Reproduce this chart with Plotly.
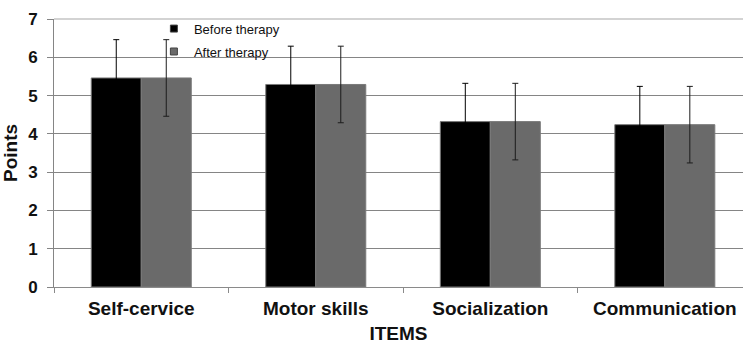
import plotly.graph_objects as go

# Mean scores per item, before and after therapy, with standard deviations
items = ["Self-cervice", "Motor skills", "Socialization", "Communication"]
before_therapy = [5.46, 5.29, 4.32, 4.24]
after_therapy = [5.46, 5.29, 4.32, 4.24]
before_sd = [1.0, 1.0, 1.0, 1.0]
after_sd = [1.0, 1.0, 1.0, 1.0]
y_ticks = [0, 1, 2, 3, 4, 5, 6, 7]

FONT = "Liberation Sans, Arial, sans-serif"
BLACK = "#000000"
GREY = "#6a6a6a"
OUTLINE = "#7a7a7a"
err_style = dict(type="data", visible=True, thickness=1, width=3)

fig = go.Figure()
fig.add_trace(go.Bar(
    name="Before therapy", x=items, y=before_therapy,
    marker=dict(color=BLACK, line=dict(color=OUTLINE, width=1)),
    error_y=dict(array=before_sd, color="#000000", **err_style),
    showlegend=False,
))
fig.add_trace(go.Bar(
    name="After therapy", x=items, y=after_therapy,
    marker=dict(color=GREY, line=dict(color=OUTLINE, width=1)),
    error_y=dict(array=after_sd, color="#1c1c1c", **err_style),
    showlegend=False,
))

# Small square legend keys for the two series
for name, color, grp in [("Before therapy", BLACK, "a"), ("After therapy", GREY, "b")]:
    fig.add_trace(go.Scatter(
        x=[None], y=[None], mode="markers", name=name, legendgroup=grp,
        marker=dict(symbol="square", size=7, color=color, line=dict(color="#444444", width=1)),
    ))

fig.update_layout(
    width=743, height=346,
    margin=dict(l=54, r=0, t=19, b=59),
    paper_bgcolor="white", plot_bgcolor="white",
    barmode="group", bargap=0.427, bargroupgap=0,
    font=dict(family=FONT, color="#111111"),
    showlegend=True,
    legend=dict(
        x=0.145, y=1.02, xanchor="left", yanchor="top",
        bgcolor="rgba(0,0,0,0)", borderwidth=0,
        font=dict(family=FONT, size=13, color="#111111"),
        traceorder="grouped", tracegroupgap=3,
        itemwidth=30,
    ),
    xaxis=dict(
        range=[-0.5, 3.448],
        showgrid=False,
        showline=True, linecolor="#8a8a8a", linewidth=1,
        ticks="outside", tickson="boundaries", ticklen=5, tickcolor="#8a8a8a",
        tickfont=dict(family=FONT, size=19, weight="bold", color="#111111"),
        ticklabelstandoff=4,
        title=dict(text="ITEMS", font=dict(family=FONT, size=19, weight="bold", color="#111111"), standoff=8),
        automargin=False,
    ),
    yaxis=dict(
        range=[0, 7], tickvals=y_ticks,
        showgrid=True, gridcolor="#858585", gridwidth=1.3,
        showline=True, linecolor="#858585", linewidth=1,
        zeroline=False,
        ticks="outside", ticklen=6, tickcolor="#858585",
        tickfont=dict(family=FONT, size=17, weight="bold", color="#111111"),
        ticklabelstandoff=6,
        title=dict(text="Points", font=dict(family=FONT, size=19, weight="bold", color="#111111"), standoff=5),
        automargin=False,
    ),
)

# Light frame line along the top of the plotting area
fig.add_shape(type="line", xref="paper", yref="paper", x0=0, x1=1, y0=1, y1=1,
              line=dict(color="#c4c4c4", width=1.5), layer="above")

fig.write_html("out.html")
